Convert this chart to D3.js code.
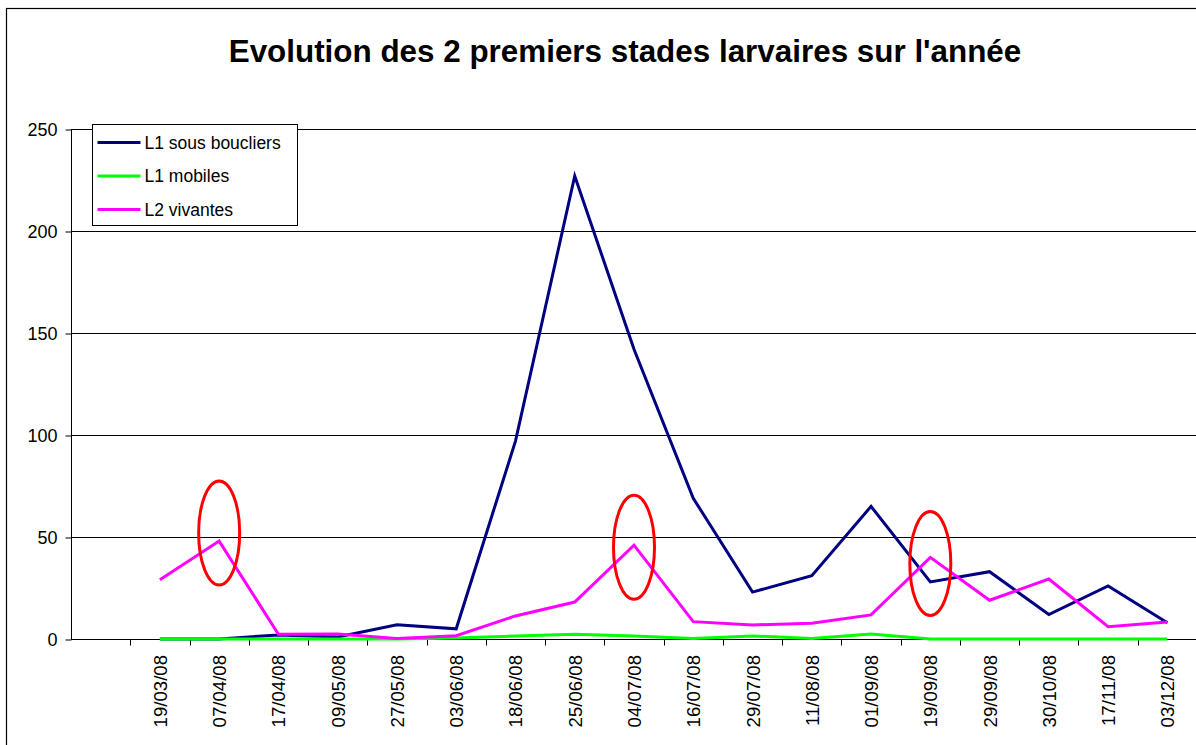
<!DOCTYPE html>
<html>
<head>
<meta charset="utf-8">
<script src="https://cdn.jsdelivr.net/npm/d3@7"></script>
<style>
    body { margin: 0; background: #fff; }
    svg { display: block; font-family: Arial, "Liberation Sans", sans-serif; }
</style>
</head>
<body>
<div id="chart"></div>
<script>
// categories (first slot is empty in the original sheet)
var categories = ["", "19/03/08", "07/04/08", "17/04/08", "09/05/08", "27/05/08", "03/06/08",
    "18/06/08", "25/06/08", "04/07/08", "16/07/08", "29/07/08", "11/08/08", "01/09/08",
    "19/09/08", "29/09/08", "30/10/08", "17/11/08", "03/12/08"];

var l1Boucliers = [null, 0, 0, 2, 1, 7, 5, 97, 227, 142, 69, 23, 31, 65, 28, 33, 12, 26, 8];
var l1Mobiles   = [null, 0, 0, 0, 0, 0, 0.5, 1.5, 2.3, 1.5, 0.3, 1.5, 0.3, 2.5, 0, 0, 0, 0, 0];
var l2Vivantes  = [null, 29, 48, 2.3, 2.4, 0.3, 1.6, 11.3, 18.1, 46, 8.5, 6.9, 7.7, 11.8, 40, 19, 29.4, 6, 8.3];

var seriesNames = ["L1 sous boucliers", "L1 mobiles", "L2 vivantes"];
var seriesColors = ["#000080", "#00ff00", "#ff00ff"];
var yTicks = [0, 50, 100, 150, 200, 250];

// red circled points: category + value of the ellipse centre
var highlights = [
    {cat: "07/04/08", value: 52},
    {cat: "04/07/08", value: 45},
    {cat: "19/09/08", value: 37}
];

var title = "Evolution des 2 premiers stades larvaires sur l'ann\u00e9e";

var width = 1196, height = 745;

var svg = d3.select("#chart").append("svg")
    .attr("width", width)
    .attr("height", height);

// chart frame
svg.append("rect")
    .attr("x", 6.5)
    .attr("y", 8.5)
    .attr("width", 1400)
    .attr("height", 900)
    .attr("fill", "#fff")
    .attr("stroke", "#000")
    .attr("stroke-width", 1.2);

svg.append("text")
    .attr("x", 625)
    .attr("y", 62)
    .attr("text-anchor", "middle")
    .attr("font-size", "31.4px")
    .attr("font-weight", "bold")
    .text(title);

var x = d3.scaleBand()
    .domain(categories)
    .range([71, 1197])
    .paddingInner(0)
    .paddingOuter(0);

var y = d3.scaleLinear()
    .domain([0, 250])
    .range([639, 129]);

// gridlines
svg.append("g")
    .selectAll("line")
    .data(yTicks.slice(1))
    .enter()
    .append("line")
    .attr("x1", 71)
    .attr("x2", width)
    .attr("y1", function(d) { return Math.round(y(d)) + 0.5; })
    .attr("y2", function(d) { return Math.round(y(d)) + 0.5; })
    .attr("stroke", "#000")
    .attr("stroke-width", 1);

// y axis
var yAxis = d3.axisLeft(y)
    .tickValues(yTicks)
    .tickSize(6)
    .tickPadding(8);

var gY = svg.append("g")
    .attr("transform", "translate(71.5,0.5)")
    .call(yAxis);
gY.selectAll("text").attr("font-size", "18px").attr("fill", "#000").attr("font-family", null);
gY.selectAll("line, path").attr("stroke", "#000");
gY.select(".domain").attr("d", "M0," + y(250) + "V" + y(0));

// x axis: ticks at category boundaries
var gX = svg.append("g").attr("transform", "translate(0,639.5)");
gX.append("line")
    .attr("x1", 71).attr("x2", width)
    .attr("stroke", "#000");
gX.selectAll(".tick")
    .data(categories.slice(1))
    .enter()
    .append("line")
    .attr("x1", function(d) { return Math.round(x(d)) + 0.5; })
    .attr("x2", function(d) { return Math.round(x(d)) + 0.5; })
    .attr("y1", 0)
    .attr("y2", 6)
    .attr("stroke", "#000");
gX.selectAll(".lbl")
    .data(categories.slice(1))
    .enter()
    .append("text")
    .attr("transform", function(d) {
        return "translate(" + (x(d) + x.bandwidth() / 2 + 7) + ",15.5) rotate(-90)";
    })
    .attr("text-anchor", "end")
    .attr("font-size", "18.6px")
    .text(function(d) { return d; });

// lines
var seriesData = [l1Boucliers, l1Mobiles, l2Vivantes];

var line = d3.line()
    .defined(function(d) { return d != null; })
    .x(function(d, i) { return x(categories[i]) + x.bandwidth() / 2; })
    .y(function(d) { return y(d); });

svg.append("g")
    .selectAll("path")
    .data(seriesData)
    .enter()
    .append("path")
    .attr("fill", "none")
    .attr("stroke", function(d, i) { return seriesColors[i]; })
    .attr("stroke-width", 3)
    .attr("stroke-linejoin", "miter")
    .attr("d", line);

// red ellipses
svg.append("g")
    .selectAll("ellipse")
    .data(highlights)
    .enter()
    .append("ellipse")
    .attr("cx", function(d) { return x(d.cat) + x.bandwidth() / 2; })
    .attr("cy", function(d) { return y(d.value); })
    .attr("rx", 20.5)
    .attr("ry", 52)
    .attr("fill", "none")
    .attr("stroke", "#ff0000")
    .attr("stroke-width", 3);

// legend
var legend = svg.append("g").attr("transform", "translate(92.5,124.5)");
legend.append("rect")
    .attr("width", 205)
    .attr("height", 101)
    .attr("fill", "#fff")
    .attr("stroke", "#000");

var items = legend.selectAll(".item")
    .data(seriesNames)
    .enter()
    .append("g")
    .attr("transform", function(d, i) { return "translate(0," + (18 + 33.5 * i) + ")"; });

items.append("line")
    .attr("x1", 5).attr("x2", 48)
    .attr("stroke", function(d, i) { return seriesColors[i]; })
    .attr("stroke-width", 3);

items.append("text")
    .attr("x", 52)
    .attr("y", 6)
    .attr("font-size", "17.5px")
    .text(function(d) { return d; });
</script>
</body>
</html>
